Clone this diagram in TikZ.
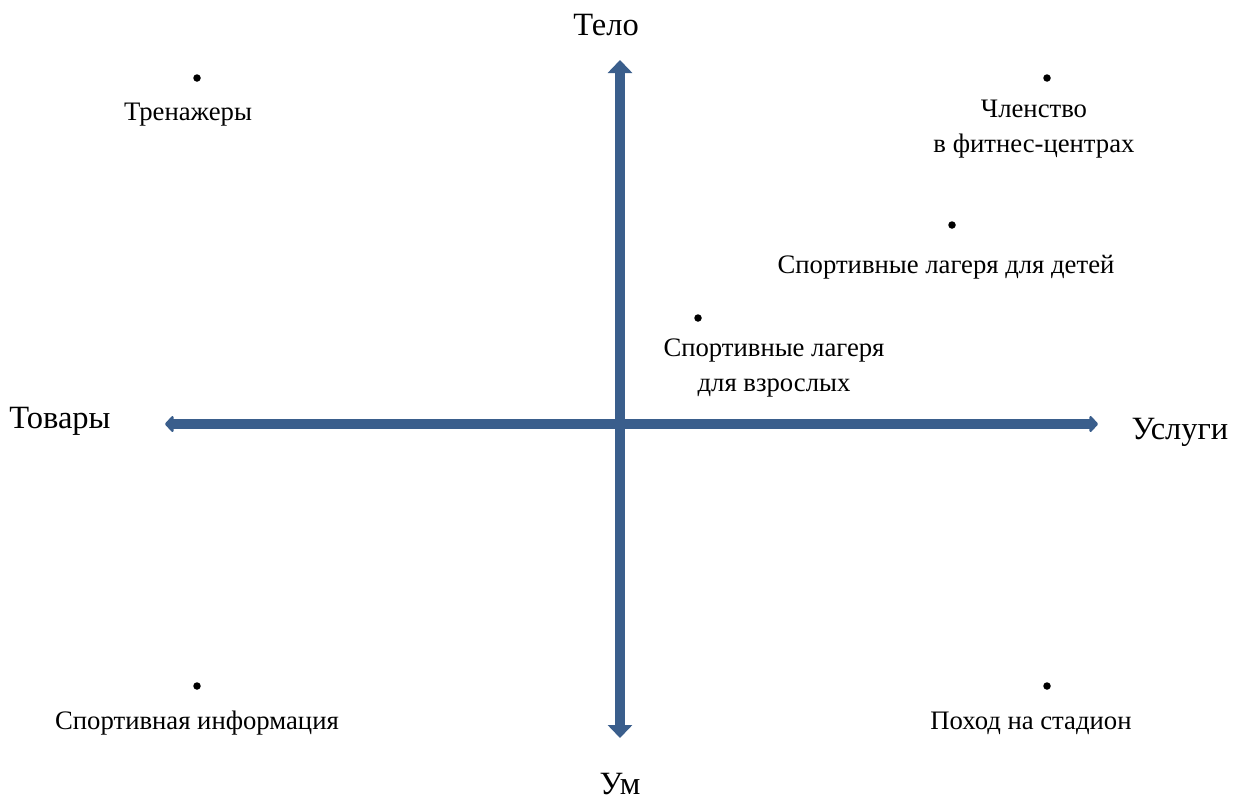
\documentclass[tikz,border=0pt]{standalone}
\usepackage{fontspec}
\setmainfont{Liberation Serif}
\usetikzlibrary{arrows.meta}
\definecolor{axisblue}{RGB}{58,94,140}
\tikzset{
  axisv/.style={line width=10pt, draw=axisblue, {Triangle[width=24pt,length=13pt]}-{Triangle[width=24pt,length=13pt]}},
  axish/.style={line width=10pt, draw=axisblue, {Triangle[width=19pt,length=9pt,round]}-{Triangle[width=19pt,length=9pt,round]}},
  pt/.style={circle, fill=black, inner sep=0pt, minimum size=7.5pt},
  lbl/.style={font=\fontsize{26.7}{35}\selectfont, align=center, inner sep=0pt},
  big/.style={font=\fontsize{32.5}{38}\selectfont, inner sep=0pt}
}
\begin{document}
\begin{tikzpicture}[x=1pt,y=-1pt]
\useasboundingbox (0,0) rectangle (1238,801);
\coordinate (vt) at (620,60);
\coordinate (vb) at (620,738);
\coordinate (hl) at (165,424);
\coordinate (hr) at (1098,424);
\draw[axish] (hl) -- (hr);
\draw[axisv] (vb) -- (vt);
\node[big] (telo) at (606,25) {Тело};
\node[big] (um) at (620,784) {Ум};
\node[big] (tovary) at (60,421) {Товары};
\node[big] (uslugi) at (1180,432) {Услуги};
\node[pt] (p1) at (197,78) {};
\node[pt] (p2) at (1047,78) {};
\node[pt] (p3) at (952,225) {};
\node[pt] (p4) at (698,318) {};
\node[pt] (p5) at (197,686) {};
\node[pt] (p6) at (1047,686) {};
\node[lbl] (t1) at (188,115) {Тренажеры};
\node[lbl] (t2) at (1034,129) {Членство\\в фитнес-центрах};
\node[lbl] (t3) at (946,267) {Спортивные лагеря для детей};
\node[lbl] (t4) at (774,368) {Спортивные лагеря\\для взрослых};
\node[lbl] (t5) at (197,723) {Спортивная информация};
\node[lbl] (t6) at (1031,723) {Поход на стадион};
\end{tikzpicture}
\end{document}
